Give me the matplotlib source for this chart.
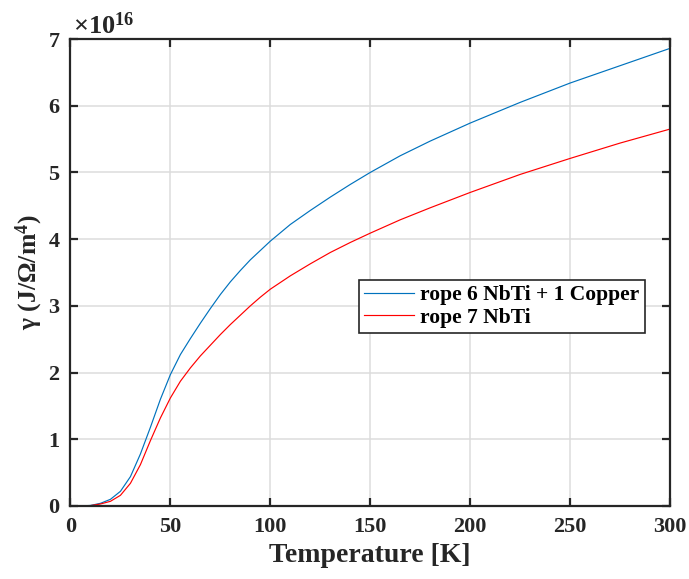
import matplotlib
matplotlib.use('Agg')
import matplotlib.pyplot as plt
import numpy as np

plt.rcParams['font.family'] = ['Liberation Serif', 'DejaVu Serif']
plt.rcParams['font.weight'] = 'bold'
plt.rcParams['mathtext.fontset'] = 'custom'
plt.rcParams['mathtext.rm'] = 'Liberation Serif:bold'
plt.rcParams['mathtext.default'] = 'rm'

# temperature [K]
temperature = [0, 5, 10, 15, 20, 25, 30, 35, 40, 45, 50, 55, 60, 65, 70, 75,
               80, 85, 90, 95, 100, 110, 120, 130, 140, 150, 165, 180, 200,
               225, 250, 275, 300]

# gamma in units of 1e16 J/Ohm/m^4
gamma_cu = [0, 0.001, 0.008, 0.04, 0.10, 0.22, 0.44, 0.78, 1.18, 1.60, 1.97,
            2.27, 2.51, 2.74, 2.96, 3.17, 3.36, 3.53, 3.69, 3.83, 3.97, 4.22,
            4.43, 4.63, 4.82, 5.00, 5.25, 5.47, 5.74, 6.05, 6.34, 6.60, 6.86]
gamma_nbti = [0, 0.001, 0.006, 0.03, 0.07, 0.16, 0.34, 0.62, 0.98, 1.32, 1.62,
              1.87, 2.07, 2.25, 2.41, 2.57, 2.72, 2.86, 3.00, 3.13, 3.25, 3.45,
              3.63, 3.80, 3.95, 4.09, 4.29, 4.47, 4.70, 4.97, 5.21, 5.44, 5.65]

labels = ['rope 6 NbTi + 1 Copper', 'rope 7 NbTi']
y_scale = 1e16

fig = plt.figure(figsize=(6.89, 5.79), dpi=100)
ax = fig.add_axes([0.1023, 0.1261, 0.8701, 0.8065])

ax.plot(temperature, gamma_cu, color='#0072BD', lw=0.85, label=labels[0])
ax.plot(temperature, gamma_nbti, color='#FF0000', lw=0.85, label=labels[1])

ax.set_xlim(0, 300)
ax.set_ylim(0, 7)
ax.set_xticks([0, 50, 100, 150, 200, 250, 300])
ax.set_yticks(range(0, 8))

# exponent label like MATLAB puts it
ax.text(0.005, 1.0, r'$\times$10$^{%d}$' % int(np.log10(y_scale)), transform=ax.transAxes,
        fontsize=19, color='#262626', ha='left', va='bottom')

ax.grid(True, color='#dcdcdc', lw=1.1)
ax.set_axisbelow(True)

for sp in ax.spines.values():
    sp.set_linewidth(1.6)
    sp.set_color('#262626')

ax.tick_params(direction='in', length=6, width=1.6, top=True, right=True,
               labelsize=16, colors='#262626', pad=8)

ax.set_xlabel('Temperature [K]', fontsize=20, fontweight='bold', color='#262626', labelpad=4)
ax.set_ylabel('γ (J/Ω/m$^{4}$)', fontsize=18.5, fontweight='bold', color='#262626', labelpad=2)

leg = ax.legend(loc='lower left', bbox_to_anchor=(0.481, 0.370), borderaxespad=0,
                fontsize=15.5, fancybox=False, framealpha=1, edgecolor='#262626',
                handlelength=2.3, borderpad=0.25, labelspacing=0.12, handletextpad=0.3)
leg.get_frame().set_linewidth(1.2)

fig.savefig('out.png', dpi=100)
